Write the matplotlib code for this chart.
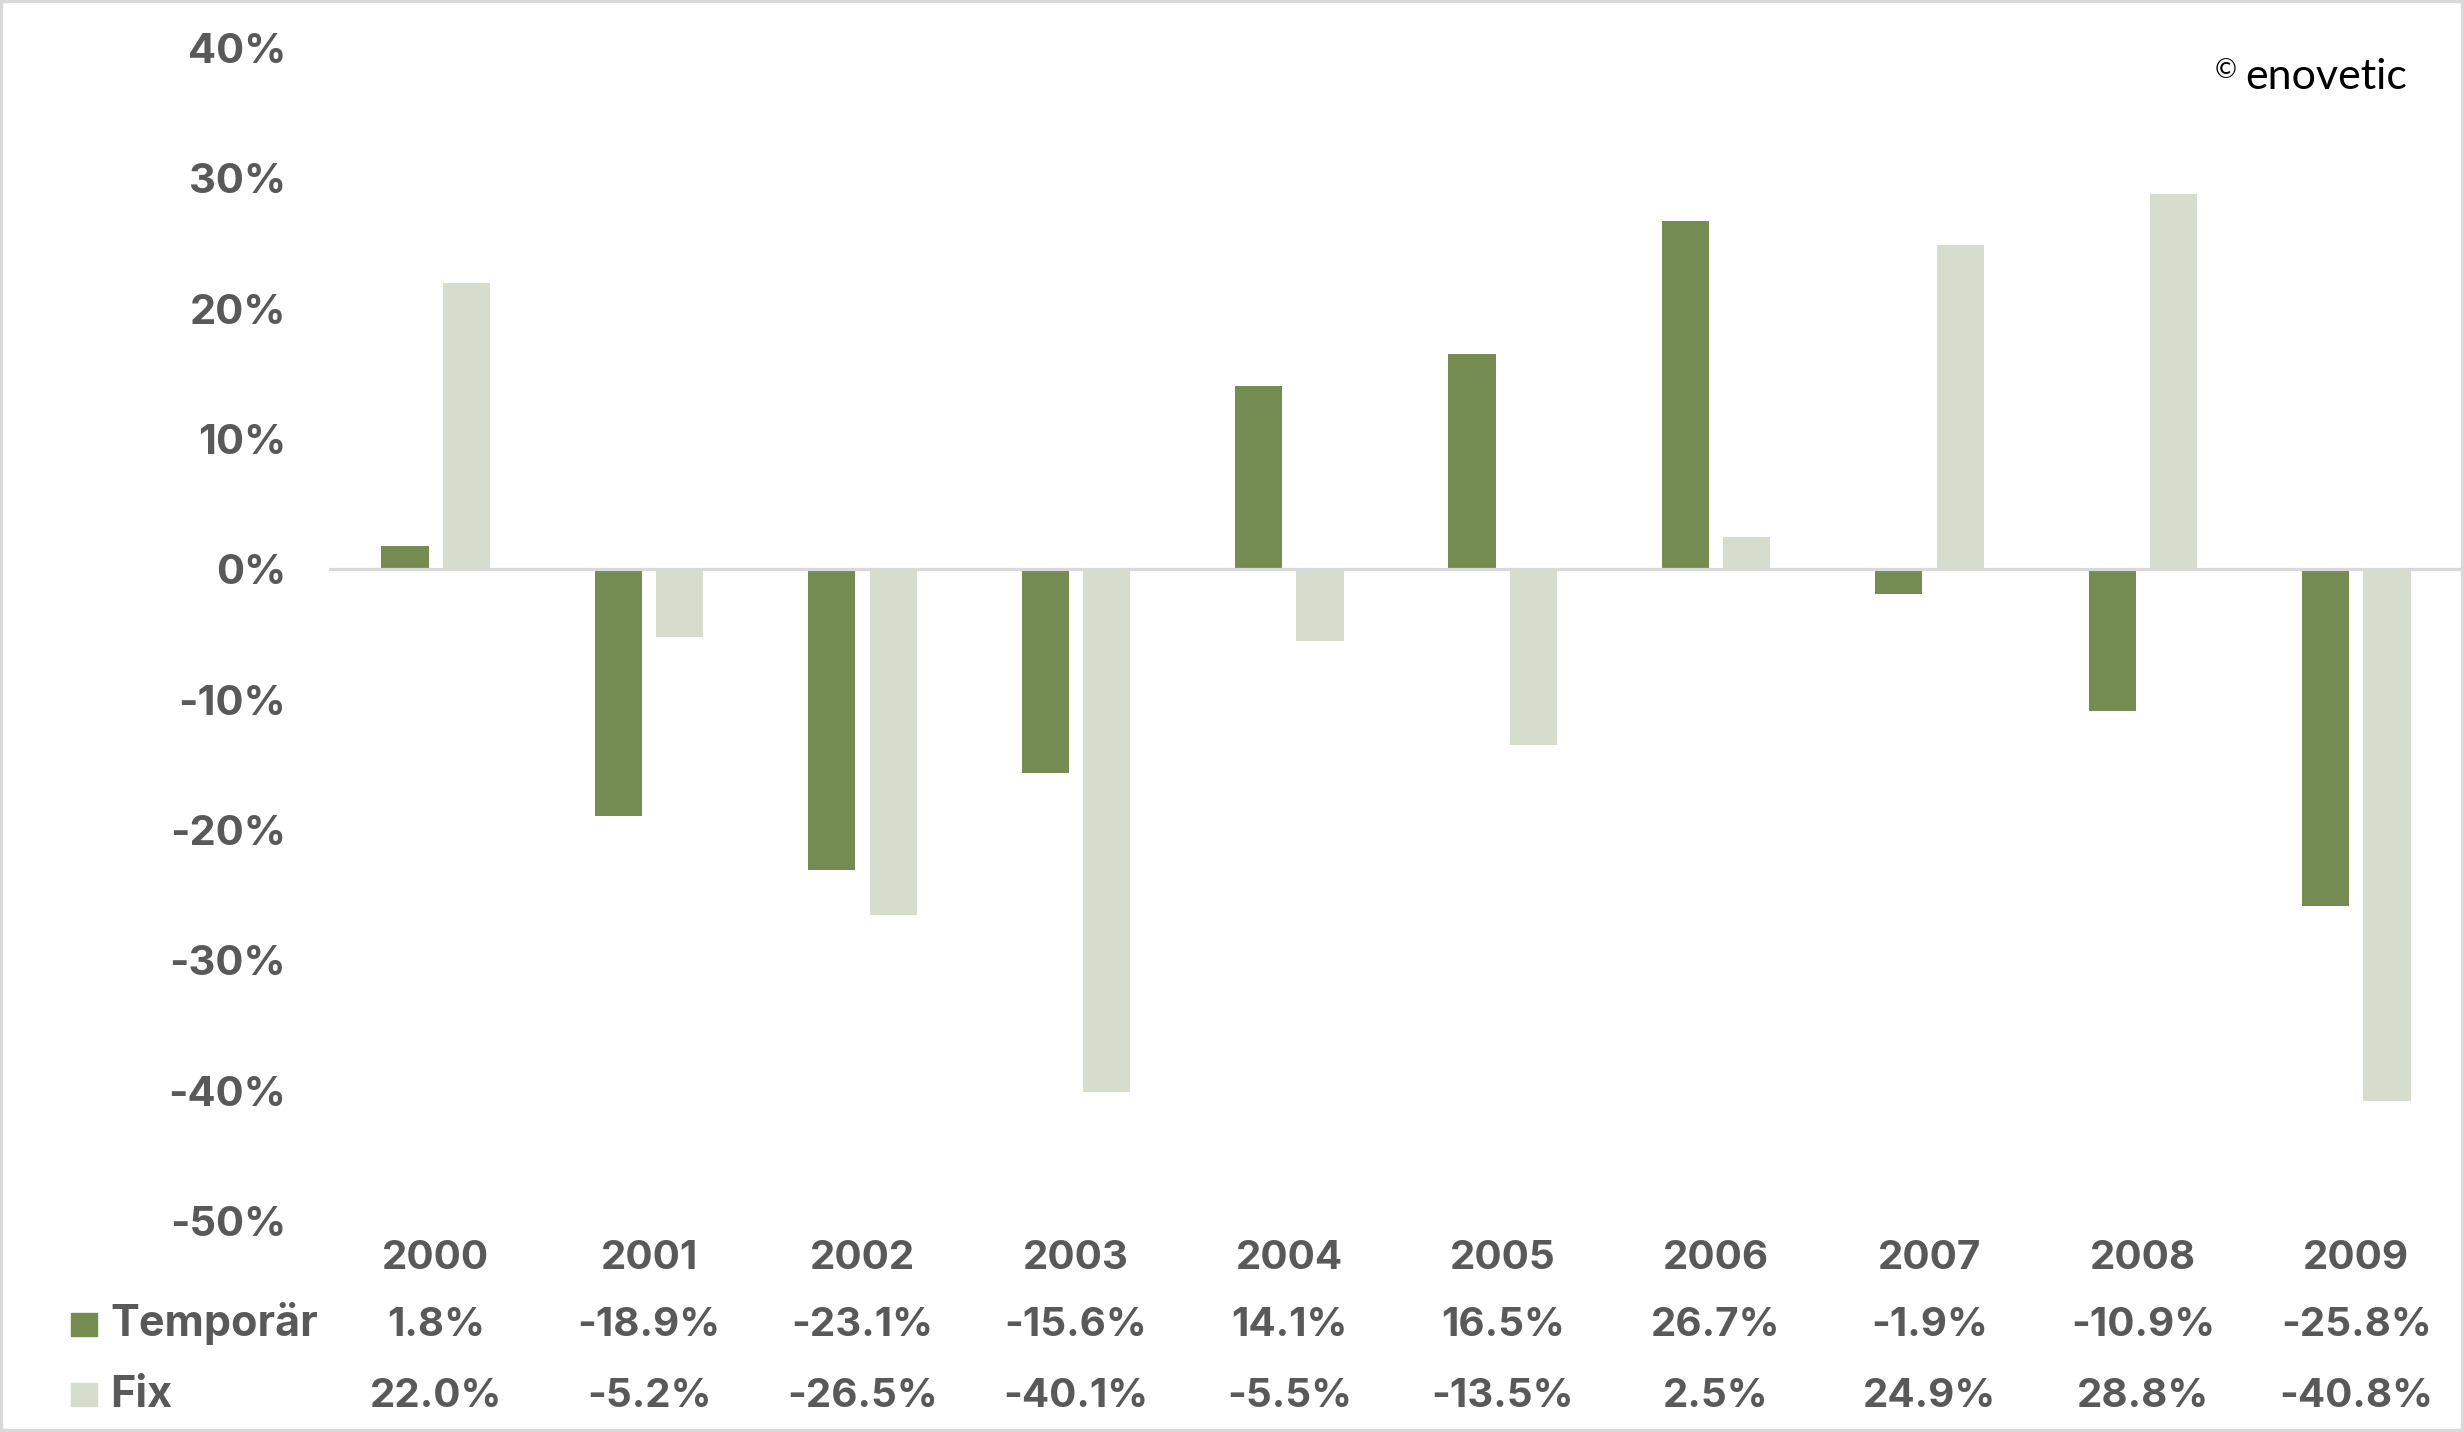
#!/usr/bin/env python3
import numpy as np
import matplotlib
matplotlib.use("Agg")
import matplotlib.pyplot as plt
from matplotlib.patches import Rectangle
from matplotlib.transforms import blended_transform_factory

plt.rcParams['font.family'] = ['Inter', 'DejaVu Sans']

YEARS = ["2000", "2001", "2002", "2003", "2004", "2005", "2006", "2007", "2008", "2009"]
TEMPORAER = [1.8, -18.9, -23.1, -15.6, 14.1, 16.5, 26.7, -1.9, -10.9, -25.8]
FIX = [22.0, -5.2, -26.5, -40.1, -5.5, -13.5, 2.5, 24.9, 28.8, -40.8]
SERIES_NAMES = ["Temporär", "Fix"]
Y_TICKS = [-50, -40, -30, -20, -10, 0, 10, 20, 30, 40]

DARK = '#748B52'
LIGHT = '#D6DDCD'
TEXT = '#595959'
GRID = '#D9D9D9'

W, H = 2464, 1432
fig = plt.figure(figsize=(W / 100, H / 100), dpi=100)
ax = fig.add_axes([329 / W, 1 - 1221 / H, (2463 - 329) / W, (1221 - 48) / H])

x = np.arange(len(YEARS))
bw = 0.221
off = 0.1435
ax.bar(x - off, TEMPORAER, width=bw, color=DARK, zorder=2)
ax.bar(x + off, FIX, width=bw, color=LIGHT, zorder=2)
ax.axhline(0, color=GRID, lw=2.3, zorder=3)

ax.set_xlim(-0.5, len(YEARS) - 0.5)
ax.set_ylim(-50, 40)
ax.set_yticks(Y_TICKS)
ax.set_yticklabels([f"{v}%" for v in Y_TICKS], fontsize=30, fontweight='bold', color=TEXT)
ax.tick_params(axis='y', length=0, pad=31)
ax.set_xticks([])
for s in ax.spines.values():
    s.set_visible(False)

# data table below the chart
tr = blended_transform_factory(ax.transData, fig.transFigure)
row_y = [1 - 1269 / H, 1 - 1336 / H, 1 - 1407 / H]
for i, yr in enumerate(YEARS):
    ax.text(i, row_y[0], yr, transform=tr, ha='center', va='baseline',
            fontsize=29, fontweight='bold', color=TEXT)
    ax.text(i, row_y[1], f"{TEMPORAER[i]:.1f}%", transform=tr, ha='center', va='baseline',
            fontsize=29, fontweight='bold', color=TEXT)
    ax.text(i, row_y[2], f"{FIX[i]:.1f}%", transform=tr, ha='center', va='baseline',
            fontsize=29, fontweight='bold', color=TEXT)

# legend keys in the table
for name, col, yb, yc in [(SERIES_NAMES[0], DARK, row_y[1], 1 - 1324.5 / H),
                          (SERIES_NAMES[1], LIGHT, row_y[2], 1 - 1394.5 / H)]:
    fig.patches.append(Rectangle((71 / W, yc - 11.5 / H), 26 / W, 23 / H,
                                 transform=fig.transFigure, color=col))
    fig.text(110 / W, yb, name, ha='left', va='baseline',
             fontsize=31, fontweight='bold', color=TEXT)

# copyright mark
fig.text(2407 / W, 1 - 89 / H, "enovetic", ha='right', va='baseline',
         fontsize=31, fontweight='normal', color='#000000', family=['Lato', 'DejaVu Sans'])
fig.text(2226 / W, 1 - 70 / H, "©", ha='center', va='center',
         fontsize=19, fontweight='normal', color='#000000', family=['Lato', 'DejaVu Sans'])

# outer border
fig.patches.append(Rectangle((0, 0), 1, 1, transform=fig.transFigure,
                             fill=False, edgecolor=GRID, lw=4.5))

plt.savefig("out.png", dpi=100)
